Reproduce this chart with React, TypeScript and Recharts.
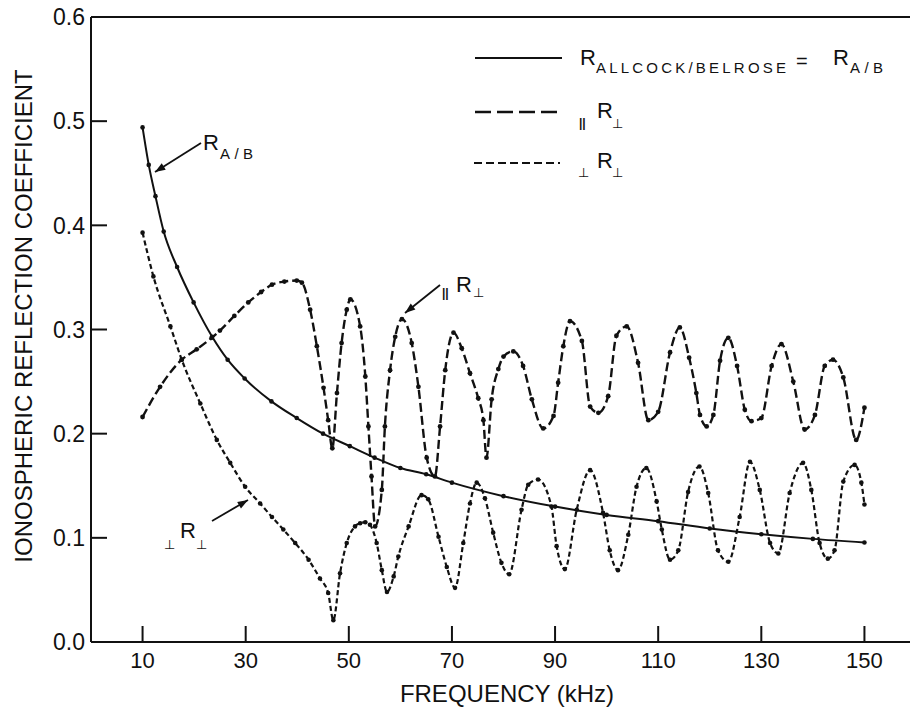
import React from 'react';
import { LineChart, Line, XAxis, YAxis, ReferenceLine } from 'recharts';

// R_A/B (Allcock/Belrose) – solid
const rabSeries: [number, number][] = [
  [10, 0.494], [11.2, 0.458], [12.5, 0.428], [14.1, 0.394], [16.7, 0.36], [19.9, 0.326],
  [23.5, 0.293], [26.5, 0.271], [29.8, 0.253], [35, 0.231], [39.9, 0.215], [45, 0.2],
  [50.2, 0.188], [55, 0.177], [60, 0.167], [65, 0.161], [70, 0.153], [80, 0.14], [90, 0.13],
  [100, 0.122], [110, 0.116], [120, 0.109], [130, 0.1035], [140, 0.099], [150, 0.0955],
];

// ||R⊥ – long dashes
const parSeries: [number, number][] = [
  [10, 0.216], [13.4, 0.245], [17.6, 0.271], [20.5, 0.281], [23.4, 0.292], [25, 0.299],
  [27.8, 0.313], [30.5, 0.326], [33, 0.336], [35.1, 0.343], [37.5, 0.346], [39.9, 0.347],
  [40.9, 0.345], [42.5, 0.319], [43.8, 0.284], [45.1, 0.244], [46, 0.213], [46.8, 0.186],
  [47.7, 0.239], [48.6, 0.287], [49.6, 0.319], [50.3, 0.329], [52.2, 0.303], [53.2, 0.255],
  [53.8, 0.207], [54.4, 0.159], [55.1, 0.111], [56.4, 0.146], [57, 0.207], [58, 0.261],
  [59, 0.293], [60.3, 0.31], [62.2, 0.287], [63.5, 0.245], [65.1, 0.177], [66.7, 0.159],
  [67.7, 0.207], [68.7, 0.261], [70.3, 0.297], [71.9, 0.282], [73.5, 0.258], [75.1, 0.234],
  [76.1, 0.213], [76.7, 0.177], [77.7, 0.233], [79, 0.262], [80, 0.274], [81.9, 0.279],
  [83.8, 0.265], [85.5, 0.233], [87.7, 0.205], [89.7, 0.217], [90.6, 0.249], [91.6, 0.284],
  [92.9, 0.308], [95.2, 0.289], [96.8, 0.226], [98.4, 0.22], [100.3, 0.236], [101.9, 0.294],
  [103.9, 0.303], [106.1, 0.268], [108.1, 0.213], [110, 0.221], [112.3, 0.278], [114.2, 0.302],
  [116, 0.273], [117.4, 0.239], [118.1, 0.218], [119.4, 0.207], [120.7, 0.218], [122, 0.27],
  [123.6, 0.292], [125.3, 0.265], [126.8, 0.223], [128.1, 0.212], [130, 0.215], [132, 0.265],
  [133.9, 0.286], [136.2, 0.25], [138.4, 0.204], [140.4, 0.218], [142.3, 0.265], [143.9, 0.271],
  [145.9, 0.254], [148.4, 0.194], [150, 0.225],
];

// ⊥R⊥ – short dashes
const perpSeries: [number, number][] = [
  [10, 0.393], [12.1, 0.351], [15.4, 0.303], [17.6, 0.271], [21.2, 0.229], [24.4, 0.194],
  [27, 0.172], [29.9, 0.149], [32.8, 0.133], [35.1, 0.12], [37.3, 0.108], [39.6, 0.095],
  [42.2, 0.079], [44.4, 0.061], [46, 0.047], [47, 0.021], [48.3, 0.066], [49.6, 0.095],
  [51.2, 0.111], [52.2, 0.114], [53.2, 0.115], [54.1, 0.1125], [55.4, 0.095], [56.4, 0.069],
  [57.4, 0.048], [58.7, 0.063], [59.6, 0.082], [61.6, 0.111], [64.1, 0.141], [65.4, 0.137],
  [67.4, 0.101], [69, 0.072], [70.6, 0.052], [72.2, 0.095], [73.5, 0.133], [74.8, 0.153],
  [76.4, 0.138], [78, 0.105], [79.6, 0.076], [81.1, 0.065], [83.5, 0.127], [84.8, 0.151],
  [86.7, 0.156], [89.3, 0.13], [90.3, 0.092], [91.9, 0.07], [94.2, 0.127], [96.8, 0.165],
  [99.3, 0.124], [100.6, 0.088], [102.2, 0.069], [104.2, 0.103], [105.8, 0.149], [107.7, 0.167],
  [109.7, 0.135], [110.7, 0.108], [112.3, 0.079], [113.9, 0.088], [115.8, 0.144], [118, 0.1685],
  [119.7, 0.143], [121.6, 0.088], [123.6, 0.077], [125.8, 0.12], [127.8, 0.173], [129.7, 0.146],
  [131.7, 0.095], [133.3, 0.085], [135.5, 0.143], [138.1, 0.172], [139.7, 0.146], [141.3, 0.095],
  [142.9, 0.08], [144.2, 0.088], [145.9, 0.154], [148.1, 0.17], [149.4, 0.153], [150, 0.132],
];

const xTicks = [10, 30, 50, 70, 90, 110, 130, 150];
const yTicks = [0, 0.1, 0.2, 0.3, 0.4, 0.5, 0.6];

const toRows = (s: [number, number][]) => s.map(([f, v]) => ({ f, v }));
const rabData = toRows(rabSeries);
const parData = toRows(parSeries);
const perpData = toRows(perpSeries);

const FONT = '"Liberation Sans", Arial, Helvetica, sans-serif';
const SYM = '"DejaVu Sans", sans-serif';
const INK = '#111';

const XTick = (props: any) => {
  const { x, y, payload } = props;
  return (
    <g>
      <line x1={x} y1={y} x2={x} y2={y - 16} stroke={INK} strokeWidth={2} />
      <text x={x} y={y + 26} textAnchor="middle" fontSize={22} fontFamily={FONT} fill={INK}>
        {payload.value}
      </text>
    </g>
  );
};

const YTick = (props: any) => {
  const { x, y, payload } = props;
  return (
    <g>
      <line x1={x} y1={y} x2={x + 16} y2={y} stroke={INK} strokeWidth={2} />
      <text x={x - 6} y={y} dy="0.36em" textAnchor="end" fontSize={23} fontFamily={FONT} fill={INK}>
        {Number(payload.value).toFixed(1)}
      </text>
    </g>
  );
};

const makeDot = (r: number) => (p: any) => (
  <circle key={`d-${p.index}`} cx={p.cx} cy={p.cy} r={r} fill={INK} stroke="none" />
);

const Arrow = ({ x1, y1, x2, y2 }: { x1: number; y1: number; x2: number; y2: number }) => {
  const a = Math.atan2(y2 - y1, x2 - x1);
  const L = 11;
  const w = 0.35;
  const p1 = [x2 - L * Math.cos(a - w), y2 - L * Math.sin(a - w)];
  const p2 = [x2 - L * Math.cos(a + w), y2 - L * Math.sin(a + w)];
  return (
    <g>
      <line x1={x1} y1={y1} x2={x2} y2={y2} stroke={INK} strokeWidth={1.8} />
      <polygon points={`${x2},${y2} ${p1[0]},${p1[1]} ${p2[0]},${p2[1]}`} fill={INK} />
    </g>
  );
};

export default function App() {
  return (
    <div
      style={{
        position: 'absolute',
        left: 0,
        top: 0,
        width: 910,
        height: 710,
        overflow: 'hidden',
        background: '#fff',
      }}
    >
      <LineChart width={920} height={710} margin={{ top: 17, right: 4, bottom: 0, left: 0 }}>
        <XAxis
          dataKey="f"
          type="number"
          domain={[0, 160]}
          ticks={xTicks}
          allowDataOverflow
          height={68}
          tickSize={0}
          tickMargin={0}
          tickLine={false}
          tick={XTick}
          axisLine={{ stroke: INK, strokeWidth: 2 }}
          interval={0}
        />
        <YAxis
          type="number"
          domain={[0, 0.6]}
          ticks={yTicks}
          allowDataOverflow
          width={91}
          tickSize={0}
          tickMargin={0}
          tickLine={false}
          tick={YTick}
          axisLine={{ stroke: INK, strokeWidth: 2 }}
          interval={0}
        />
        <ReferenceLine y={0.6} stroke={INK} strokeWidth={2} />
        <Line
          data={rabData}
          dataKey="v"
          type="monotone"
          stroke={INK}
          strokeWidth={2}
          dot={makeDot(2.3)}
          isAnimationActive={false}
        />
        <Line
          data={parData}
          dataKey="v"
          type="monotone"
          stroke={INK}
          strokeWidth={2.4}
          strokeDasharray="9 4"
          dot={makeDot(2.4)}
          isAnimationActive={false}
        />
        <Line
          data={perpData}
          dataKey="v"
          type="monotone"
          stroke={INK}
          strokeWidth={2.2}
          strokeDasharray="5 3"
          dot={makeDot(2.3)}
          isAnimationActive={false}
        />
      </LineChart>

      <svg
        width={910}
        height={710}
        style={{ position: 'absolute', left: 0, top: 0, pointerEvents: 'none' }}
        fontFamily={FONT}
        fill={INK}
      >
        {/* axis titles */}
        <text x={507} y={702} textAnchor="middle" fontSize={24}>
          FREQUENCY (kHz)
        </text>
        <text transform="translate(32,316) rotate(-90)" textAnchor="middle" fontSize={24}>
          IONOSPHERIC REFLECTION COEFFICIENT
        </text>

        {/* legend */}
        <line x1={475} y1={58} x2={562} y2={58} stroke={INK} strokeWidth={2.2} />
        <text x={580} y={65} fontSize={22}>R</text>
        <text x={596} y={73} fontSize={15} textLength={190} lengthAdjust="spacing">
          ALLCOCK/BELROSE
        </text>
        <text x={796} y={68} fontSize={20}>=</text>
        <text x={833} y={65} fontSize={22}>R</text>
        <text x={850} y={73} fontSize={15} textLength={33} lengthAdjust="spacing">A/B</text>

        <line x1={475} y1={112} x2={560} y2={112} stroke={INK} strokeWidth={2.4} strokeDasharray="16 6" />
        <text x={579} y={127} fontSize={12} fontWeight="bold">||</text>
        <text x={597} y={118} fontSize={22}>R</text>
        <text x={612} y={128} fontSize={13} fontFamily={SYM} fill={INK}>⊥</text>

        <line x1={474} y1={163} x2={560} y2={163} stroke={INK} strokeWidth={2.2} strokeDasharray="8 4" />
        <text x={578} y={177} fontSize={13} fontFamily={SYM} fill={INK}>⊥</text>
        <text x={597} y={168} fontSize={22}>R</text>
        <text x={612} y={177} fontSize={13} fontFamily={SYM} fill={INK}>⊥</text>

        {/* annotations */}
        <Arrow x1={201} y1={143} x2={155} y2={172} />
        <text x={203} y={150} fontSize={22}>R</text>
        <text x={220} y={159} fontSize={15} textLength={33} lengthAdjust="spacing">A/B</text>

        <Arrow x1={440} y1={285} x2={405} y2={313} />
        <text x={442} y={297} fontSize={12} fontWeight="bold">||</text>
        <text x={456} y={292} fontSize={22}>R</text>
        <text x={473} y={297} fontSize={13} fontFamily={SYM} fill={INK}>⊥</text>

        <Arrow x1={212} y1={521} x2={248} y2={500} />
        <text x={164} y={549} fontSize={13} fontFamily={SYM} fill={INK}>⊥</text>
        <text x={180} y={538} fontSize={22}>R</text>
        <text x={196} y={549} fontSize={13} fontFamily={SYM} fill={INK}>⊥</text>
      </svg>
    </div>
  );
}
